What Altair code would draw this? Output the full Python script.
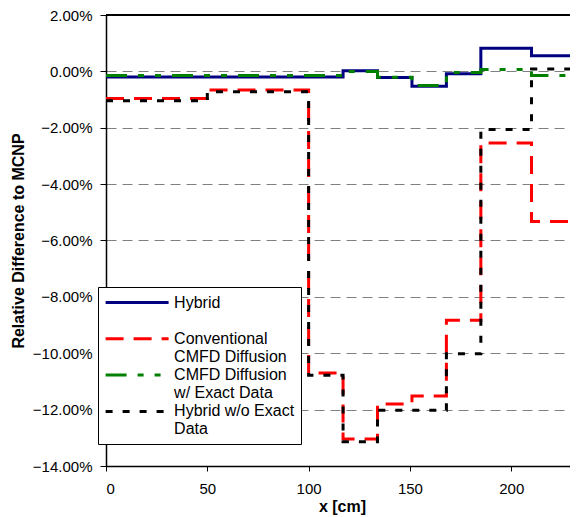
import altair as alt
import pandas as pd

# Region boundaries along x [cm] (last value = end of drawn range)
x_edges = [0, 50, 100, 117, 134, 151, 168, 185, 210, 233]

# Relative difference to MCNP, in percent, one value per region start (last repeated)
hybrid = [-0.20, -0.20, -0.20, 0.02, -0.22, -0.53, -0.08, 0.82, 0.55, 0.55]
conventional = [-0.96, -0.66, -10.70, -13.04, -11.80, -11.52, -8.83, -2.54, -5.33, -5.33]
cmfd_exact = [-0.15, -0.15, -0.15, 0.00, -0.21, -0.50, -0.04, 0.07, -0.15, -0.15]
hybrid_no_exact = [-1.04, -0.72, -10.78, -13.14, -12.02, -12.02, -10.02, -2.06, 0.08, 0.08]

series_names = [
    "Hybrid",
    "Conventional CMFD Diffusion",
    "CMFD Diffusion w/ Exact Data",
    "Hybrid w/o Exact Data",
]
series_values = [hybrid, conventional, cmfd_exact, hybrid_no_exact]
series_colors = ["#000080", "#FF0000", "#008000", "#000000"]
series_dashes = [[1, 0], [18, 10], [21, 11, 6, 11, 6, 11], [7, 10]]

y_ticks = [0.02, 0.0, -0.02, -0.04, -0.06, -0.08, -0.10, -0.12, -0.14]
x_ticks = [0, 50, 100, 150, 200]

rows = []
for order, (name, vals) in enumerate(zip(series_names, series_values)):
    for x, v in zip(x_edges, vals):
        rows.append({"x": x, "y": v / 100.0, "series": name, "order": order})
df = pd.DataFrame(rows)

FONT = "Liberation Sans"
W, H = 464, 451

label_expr = (
    "datum.label == 'Hybrid' ? ['Hybrid', ''] : "
    "datum.label == 'Conventional CMFD Diffusion' ? ['Conventional', 'CMFD Diffusion'] : "
    "datum.label == 'CMFD Diffusion w/ Exact Data' ? ['CMFD Diffusion', 'w/ Exact Data'] : "
    "['Hybrid w/o Exact', 'Data']"
)

legend = alt.Legend(
    title=None,
    orient="none",
    legendX=-8,
    legendY=272,
    labelExpr=label_expr,
)

lines = (
    alt.Chart(df)
    .mark_line(interpolate="step-after", strokeWidth=3, clip=True)
    .encode(
        x=alt.X(
            "x:Q",
            scale=alt.Scale(domain=[0, 229], nice=False, zero=False),
            axis=alt.Axis(
                values=x_ticks,
                title="x [cm]",
                grid=False,
                tickSize=5,
                labelPadding=10,
                titleX=236,
                titleY=40,
                titleBaseline="middle",
            ),
        ),
        y=alt.Y(
            "y:Q",
            scale=alt.Scale(domain=[-0.14, 0.02], nice=False, zero=False),
            axis=alt.Axis(
                values=y_ticks,
                format=".2%",
                title="Relative Difference to MCNP",
                grid=True,
                gridDash=[10, 6],
                gridColor="#808080",
                gridWidth=1,
                tickSize=6,
                labelPadding=8,
                titleX=-88,
                titleBaseline="middle",
            ),
        ),
        color=alt.Color(
            "series:N",
            scale=alt.Scale(domain=series_names, range=series_colors),
            legend=legend,
        ),
        strokeDash=alt.StrokeDash(
            "series:N",
            scale=alt.Scale(domain=series_names, range=series_dashes),
            legend=legend,
        ),
        order="order:Q",
    )
)

top_border = alt.Chart(df).mark_rule(color="black", strokeWidth=1.5).encode(
    x=alt.value(0), x2=alt.value(W), y=alt.value(0)
)

chart = (
    alt.layer(lines, top_border)
    .properties(
        width=W,
        height=H,
        autosize=alt.AutoSizeParams(type="none"),
        padding={"left": 98, "top": 7, "right": 0, "bottom": 51},
    )
    .configure_view(stroke=None)
    .configure_axis(
        labelFont=FONT,
        labelFontSize=15,
        labelColor="black",
        titleFont=FONT,
        titleFontSize=16,
        titleFontWeight="bold",
        titleColor="black",
        domainColor="black",
        domainWidth=1.5,
        tickColor="black",
        tickWidth=1,
    )
    .configure_legend(
        labelFont=FONT,
        labelFontSize=16,
        labelColor="black",
        labelLimit=400,
        labelOffset=27.5,
        labelBaseline="middle",
        symbolType="M-4,0H4",
        symbolSize=248,
        symbolOffset=23.6,
        symbolStrokeWidth=3,
        padding=6,
        rowPadding=0.3,
        fillColor="white",
        strokeColor="black",
    )
)

chart.save("out.html", embed_options={"renderer": "svg", "actions": False})
